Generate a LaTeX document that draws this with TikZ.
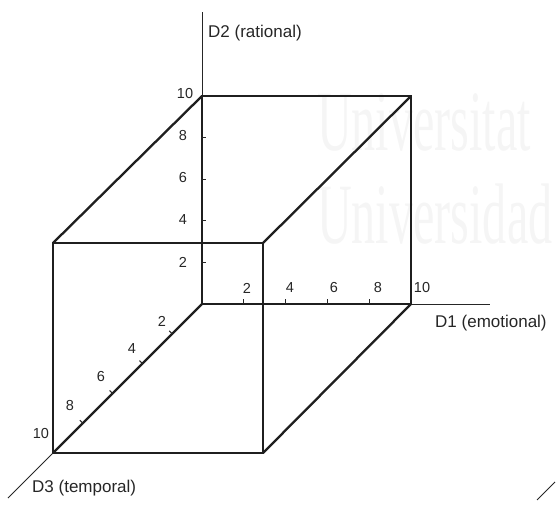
\documentclass[tikz,border=0pt]{standalone}
\usepackage{fontspec}
\usetikzlibrary{calc}
\setmainfont{Liberation Sans}
\newfontfamily\wmfont{Liberation Serif}
\begin{document}
\begin{tikzpicture}[x=1pt,y=-1pt,
  edge/.style={line width=2.3pt,line cap=round,line join=round,black!88},
  axisline/.style={line width=1pt,black!85},
  tick/.style={line width=1pt,black!85},
  num/.style={inner sep=0pt,font=\fontsize{14.5}{16}\selectfont,text=black!85},
  axlabel/.style={inner sep=0pt,anchor=west,font=\fontsize{17}{19}\selectfont,text=black!85},
  wm/.style={inner sep=0pt,anchor=base west,font=\wmfont\fontsize{86}{90}\selectfont,text=black!4,xscale=0.56}]
\useasboundingbox (0,0) rectangle (556,505);
% watermark
\node[wm] (wm1) at (317,151) {Universitat};
\node[wm] (wm2) at (317,243) {Universidad};
% corners
\coordinate (O) at (202,304);
\coordinate (B2) at (202,96);
\coordinate (B12) at (411,96);
\coordinate (B1) at (411,304);
\coordinate (F3) at (53,453);
\coordinate (F23) at (53,243);
\coordinate (F123) at (263,243);
\coordinate (F13) at (263,453);
% axis ends
\coordinate (E2) at (202,12);
\coordinate (E1) at (490,304);
\coordinate (E3) at (8,498);
\coordinate (S1) at (537,500);
\coordinate (S2) at (555,482);
% thin axis extensions
\draw[axisline] (B2) -- (E2);
\draw[axisline] (B1) -- (E1);
\draw[axisline] (F3) -- (E3);
\draw[axisline] (S1) -- (S2);
% cube
\draw[edge] (O) -- (B2) -- (B12) -- (B1) -- cycle;
\draw[edge] (F3) -- (F23) -- (F123) -- (F13) -- cycle;
\draw[edge] (O) -- (F3);
\draw[edge] (B2) -- (F23);
\draw[edge] (B12) -- (F123);
\draw[edge] (B1) -- (F13);
% ticks D2
\foreach \k in {1,2,3,4}{
  \draw[tick] ($(O)!\k/5!(B2)+(-1,0)$) -- ++(4.5,0);
}
% ticks D1
\foreach \k in {1,2,3,4}{
  \draw[tick] ($(O)!\k/5!(B1)$) -- ++(0,-5);
}
% ticks D3
\foreach \k in {1,2,3,4}{
  \draw[tick] ($(O)!\k/5!(F3)$) -- ++(-3,-3);
}
% numbers D2
\node[num] (n2a) at (183,262) {2};
\node[num] (n2b) at (183,220) {4};
\node[num] (n2c) at (183,178) {6};
\node[num] (n2d) at (183,136) {8};
\node[num] (n2e) at (185,94) {10};
% numbers D1
\node[num] (n1a) at (247,288) {2};
\node[num] (n1b) at (290,288) {4};
\node[num] (n1c) at (334,288) {6};
\node[num] (n1d) at (378,288) {8};
\node[num] (n1e) at (422,288) {10};
% numbers D3
\node[num] (n3a) at (162,321) {2};
\node[num] (n3b) at (132,349) {4};
\node[num] (n3c) at (101,377) {6};
\node[num] (n3d) at (70,406) {8};
\node[num] (n3e) at (41,434) {10};
% axis labels
\node[axlabel] (L2) at (208,33) {D2 (rational)};
\node[axlabel] (L1) at (435,323) {D1 (emotional)};
\node[axlabel] (L3) at (32,488) {D3 (temporal)};
\end{tikzpicture}
\end{document}
